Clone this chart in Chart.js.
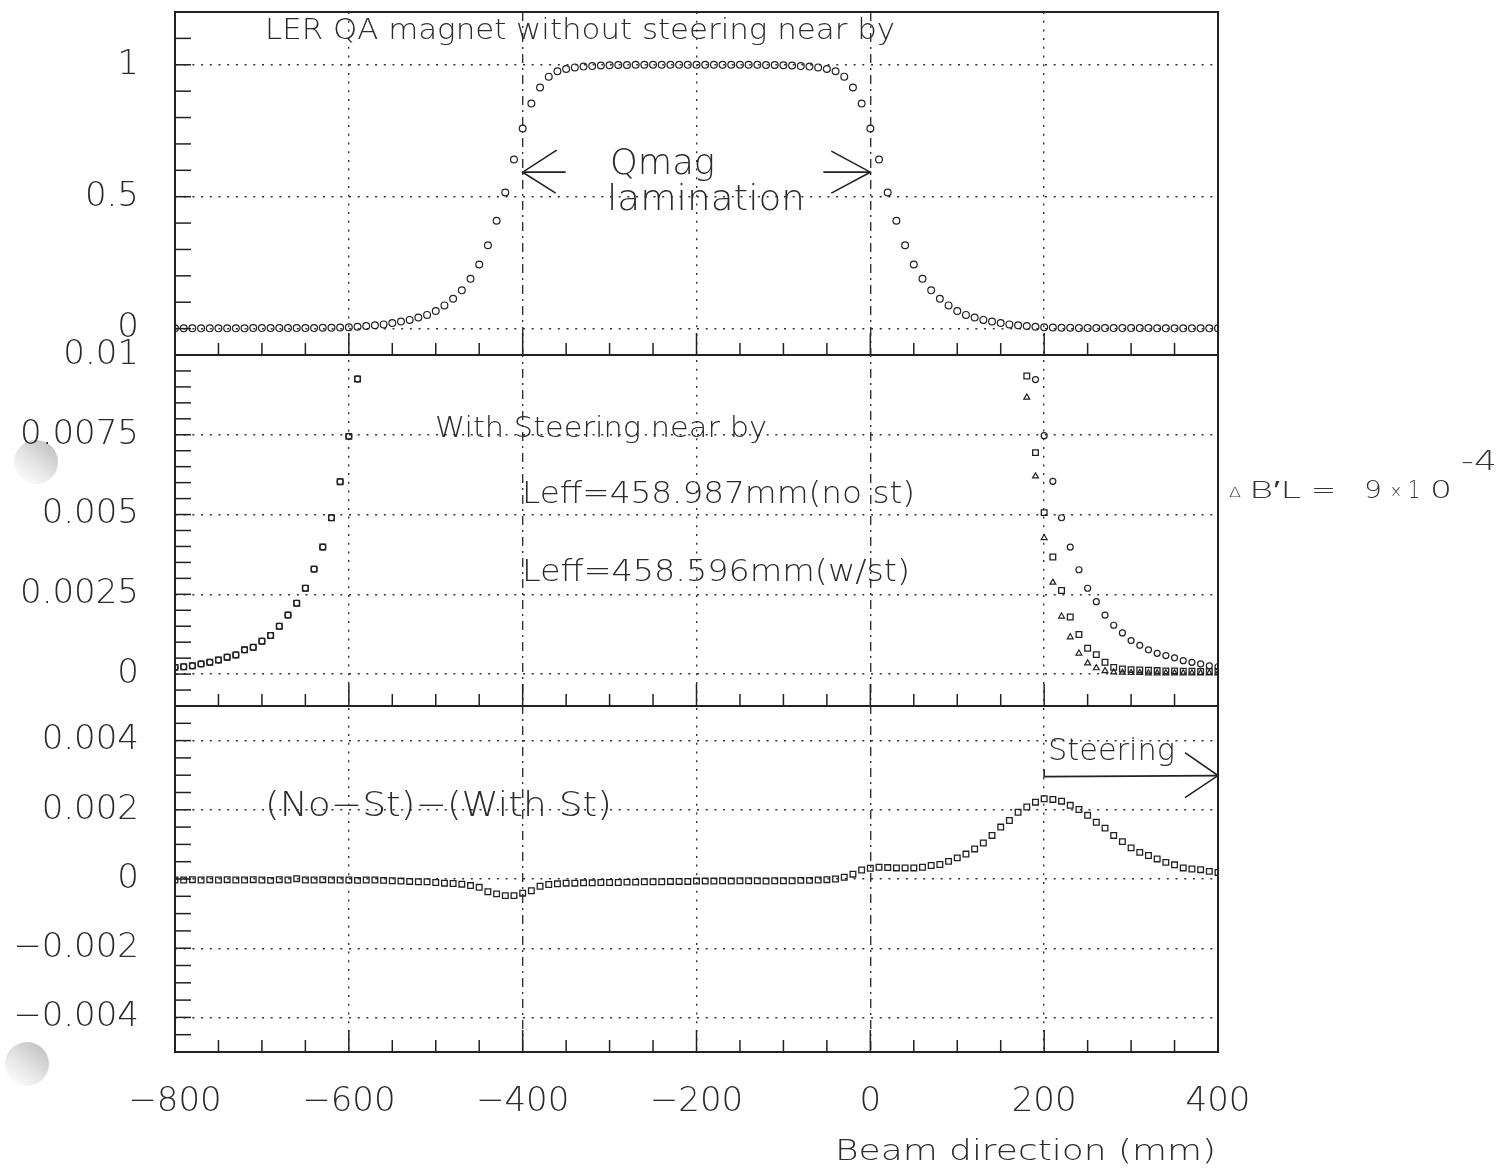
<!DOCTYPE html>
<html>
<head>
<meta charset="utf-8">
<title>LER QA magnet field profile</title>
<script src="https://cdn.jsdelivr.net/npm/chart.js@4.4.0/dist/chart.umd.min.js"></script>
<style>
  html, body { margin: 0; padding: 0; background: #fff; }
  #wrap { width: 1511px; height: 1175px; }
</style>
</head>
<body>
<div id="wrap"><canvas id="myChart" width="1511" height="1175"></canvas></div>
<script>
// Beam direction positions (mm)
const xFull = [
  -800,-790,-780,-770,-760,-750,-740,-730,-720,-710,
  -700,-690,-680,-670,-660,-650,-640,-630,-620,-610,
  -600,-590,-580,-570,-560,-550,-540,-530,-520,-510,
  -500,-490,-480,-470,-460,-450,-440,-430,-420,-410,
  -400,-390,-380,-370,-360,-350,-340,-330,-320,-310,
  -300,-290,-280,-270,-260,-250,-240,-230,-220,-210,
  -200,-190,-180,-170,-160,-150,-140,-130,-120,-110,
  -100,-90,-80,-70,-60,-50,-40,-30,-20,-10,
  0,10,20,30,40,50,60,70,80,90,
  100,110,120,130,140,150,160,170,180,190,
  200,210,220,230,240,250,260,270,280,290,
  300,310,320,330,340,350,360,370,380,390,
  400
];

// top panel : normalised field, no steering near by
const fieldNoSteer = [
  0.001,0.001,0.001,0.001,0.001,0.001,0.001,0.001,0.001,0.002,
  0.002,0.002,0.002,0.002,0.002,0.002,0.002,0.003,0.003,0.004,
  0.005,0.007,0.010,0.013,0.016,0.021,0.027,0.033,0.042,0.052,
  0.067,0.088,0.113,0.145,0.189,0.243,0.316,0.409,0.516,0.641,
  0.758,0.853,0.914,0.955,0.975,0.984,0.990,0.993,0.995,0.997,
  0.998,0.999,0.999,1.000,1.000,1.000,1.000,1.000,1.000,1.000,
  1.000,1.000,1.000,1.000,1.000,1.000,1.000,1.000,0.999,0.999,
  0.998,0.997,0.995,0.993,0.990,0.984,0.975,0.955,0.914,0.853,
  0.758,0.641,0.516,0.409,0.316,0.243,0.189,0.145,0.113,0.088,
  0.067,0.052,0.042,0.033,0.027,0.021,0.016,0.013,0.010,0.007,
  0.005,0.004,0.003,0.003,0.002,0.002,0.002,0.002,0.002,0.002,
  0.002,0.002,0.002,0.001,0.001,0.001,0.001,0.001,0.001,0.001,
  0.001
];

// middle panel : tails (only the part that stays inside 0..0.01)
const tailNoStX = [
  -800,-790,-780,-770,-760,-750,-740,-730,-720,-710,-700,
  -690,-680,-670,-660,-650,-640,-630,-620,-610,-600,-590,
  190,200,210,220,230,240,250,260,270,280,290,
  300,310,320,330,340,350,360,370,380,390,400
];
const tailNoSt = [
  0.00021,0.00023,0.00026,0.00032,0.00037,0.00044,0.00053,0.00060,0.00076,0.00084,0.00103,
  0.00121,0.00150,0.00185,0.00222,0.00269,0.00329,0.00398,0.00490,0.00603,0.00745,0.00925,
  0.00923,0.00747,0.00604,0.00490,0.00398,0.00327,0.00269,0.00227,0.00185,0.00153,0.00129,
  0.00105,0.00090,0.00076,0.00065,0.00058,0.00051,0.00042,0.00037,0.00032,0.00026,0.00023
];
const tailWithStX = [
  -800,-790,-780,-770,-760,-750,-740,-730,-720,-710,-700,
  -690,-680,-670,-660,-650,-640,-630,-620,-610,-600,-590,
  180,190,200,210,220,230,240,250,260,270,280,290,
  300,310,320,330,340,350,360,370,380,390,400
];
const tailWithSt = [
  0.00021,0.00023,0.00026,0.00032,0.00037,0.00044,0.00053,0.00060,0.00076,0.00084,0.00103,
  0.00121,0.00150,0.00185,0.00222,0.00269,0.00329,0.00398,0.00490,0.00603,0.00745,0.00925,
  0.00934,0.00694,0.00506,0.00367,0.00262,0.00179,0.00124,0.00081,0.00061,0.00037,0.00021,0.00016,
  0.00014,0.00013,0.00012,0.00011,0.00010,0.00010,0.00009,0.00009,0.00008,0.00008,0.00008
];
const tailWithSt2X = [
  180,190,200,210,220,230,240,250,260,270,280,290,
  300,310,320,330,340,350,360,370,380,390,400
];
const tailWithSt2 = [
  0.00867,0.00620,0.00427,0.00287,0.00181,0.00116,0.00065,0.00034,0.00019,0.00010,0.00006,0.00005,
  0.00004,0.00004,0.00003,0.00003,0.00003,0.00003,0.00003,0.00003,0.00003,0.00003,0.00003
];

// bottom panel : (No-St)-(With St)
const diffSt = [
  -0.00003,-0.00003,-0.00002,-0.00003,-0.00002,-0.00003,-0.00002,-0.00003,-0.00003,-0.00002,
  -0.00003,-0.00004,-0.00002,-0.00003,0.00001,-0.00003,-0.00003,-0.00002,-0.00003,-0.00003,
  -0.00003,-0.00004,-0.00003,-0.00003,-0.00004,-0.00005,-0.00006,-0.00007,-0.00008,-0.00008,
  -0.00010,-0.00012,-0.00013,-0.00015,-0.00019,-0.00024,-0.00037,-0.00043,-0.00048,-0.00048,
  -0.00041,-0.00034,-0.00021,-0.00016,-0.00014,-0.00012,-0.00012,-0.00011,-0.00011,-0.00010,
  -0.00010,-0.00010,-0.00009,-0.00009,-0.00008,-0.00008,-0.00008,-0.00007,-0.00007,-0.00007,
  -0.00006,-0.00006,-0.00006,-0.00005,-0.00006,-0.00005,-0.00005,-0.00005,-0.00006,-0.00005,
  -0.00005,-0.00005,-0.00004,-0.00004,-0.00003,-0.00002,0.00000,0.00005,0.00014,0.00026,
  0.00031,0.00034,0.00033,0.00032,0.00032,0.00032,0.00034,0.00039,0.00042,0.00051,
  0.00061,0.00072,0.00087,0.00104,0.00126,0.00150,0.00169,0.00193,0.00208,0.00222,
  0.00232,0.00230,0.00225,0.00213,0.00201,0.00184,0.00164,0.00147,0.00126,0.00108,
  0.00090,0.00077,0.00068,0.00058,0.00048,0.00041,0.00032,0.00029,0.00027,0.00022,
  0.00019
];

// tick labels
const xTicks = [-800, -600, -400, -200, 0, 200, 400];
const yTicksTop = [0, 0.5, 1];
const yTicksMid = [0, 0.0025, 0.005, 0.0075, 0.01];
const yTicksBot = [-0.004, -0.002, 0, 0.002, 0.004];

const ink = '#222';
const face = '"DejaVu Sans", "Liberation Sans", sans-serif';

function pts(xs, ys) {
  return xs.map((x, i) => ({x: x, y: ys[i]}));
}
function minus(v) {
  return String(v).replace('-', '\u2212');
}

// y axis (one per panel, stacked)
function yAxis(ticks, min, max, weight, stackWeight) {
  return {
    type: 'linear',
    position: 'left',
    stack: 'panels',
    stackWeight: stackWeight,
    weight: weight,
    min: min,
    max: max,
    afterBuildTicks: s => { s.ticks = ticks.map(v => ({value: v})); },
    afterFit: s => { s.width = 175; s.paddingTop = 0; s.paddingBottom = 0; },
    ticks: {
      color: '#2b2b2b',
      padding: 36,
      font: {family: face, size: 34, weight: 200},
      callback: v => minus(v)
    },
    grid: {color: '#333', lineWidth: 1.4, drawTicks: false},
    border: {display: false, dash: [2, 6.7]}
  };
}

function txt(c, s, x, y, size, w, weight) {
  c.font = (weight || 200) + ' ' + size + 'px ' + face;
  const m = c.measureText(s).width;
  c.save();
  c.translate(x, y);
  if (w) c.scale(w / m, 1);
  c.fillText(s, 0, 0);
  c.restore();
}

function line(c, pts) {
  c.beginPath();
  c.moveTo(pts[0][0], pts[0][1]);
  for (let i = 1; i < pts.length; i++) c.lineTo(pts[i][0], pts[i][1]);
  c.stroke();
}

const panelSteps = {yTop: 0.1, yMid: 0.0005, yBot: 0.0005};

const decor = {
  id: 'decor',
  beforeDraw(chart) {
    const c = chart.ctx;
    c.save();
    c.fillStyle = '#fff';
    c.fillRect(0, 0, chart.width, chart.height);
    // hole punch shadows of the scan
    [[36, 462], [27, 1064]].forEach(p => {
      const g = c.createLinearGradient(p[0] + 14, p[1] - 18, p[0] - 14, p[1] + 18);
      g.addColorStop(0, '#c4c4c4');
      g.addColorStop(0.5, '#e2e2e2');
      g.addColorStop(1, '#fbfbfb');
      c.fillStyle = g;
      c.beginPath();
      c.arc(p[0], p[1], 22, 0, Math.PI * 2);
      c.fill();
    });
    c.restore();
  },
  afterDraw(chart) {
    const c = chart.ctx;
    const xs = chart.scales.x;
    c.save();
    c.strokeStyle = ink;
    c.fillStyle = '#2b2b2b';
    ['yTop', 'yMid', 'yBot'].forEach(id => {
      const ys = chart.scales[id];
      c.lineWidth = 2;
      c.strokeRect(xs.left, ys.top, xs.right - xs.left, ys.bottom - ys.top);
      c.lineWidth = 1.5;
      const step = panelSteps[id];
      const n = Math.round((ys.max - ys.min) / step);
      for (let i = 1; i < n; i++) {
        const py = ys.getPixelForValue(ys.min + i * step);
        line(c, [[xs.left, py], [xs.left + 16, py]]);
      }
      for (let v = -750; v < 400; v += 50) {
        const px = xs.getPixelForValue(v);
        const len = v % 200 === 0 ? 22 : 12;
        line(c, [[px, ys.bottom], [px, ys.bottom - len]]);
      }
    });

    c.textAlign = 'left';
    c.textBaseline = 'alphabetic';
    const yt = chart.scales.yTop;
    const yb = chart.scales.yBot;

    // x axis title
    txt(c, 'Beam direction (mm)', 835, 1160, 28, 381);

    // top panel text + lamination arrows
    txt(c, 'LER QA magnet without steering near by', 265, 39, 28, 630);
    txt(c, 'Qmag', 610, 174, 35, 105);
    txt(c, 'lamination', 607, 210, 35, 198);
    c.lineWidth = 1.6;
    const ay = yt.getPixelForValue(0.593);
    const l = xs.getPixelForValue(-400);
    const r = xs.getPixelForValue(0);
    line(c, [[l + 43, ay], [l, ay]]);
    line(c, [[l + 34, ay - 22], [l, ay], [l + 33, ay + 21]]);
    line(c, [[r - 47, ay], [r, ay]]);
    line(c, [[r - 39, ay - 21], [r, ay], [r - 39, ay + 21]]);

    // middle panel text
    txt(c, 'With Steering near by', 435, 437, 28, 332);
    txt(c, 'Leff=458.987mm(no st)', 522, 503, 31, 393);
    txt(c, 'Leff=458.596mm(w/st)', 522, 581, 31, 388);

    // bottom panel text + steering arrow
    txt(c, '(No\u2212St)\u2212(With St)', 265, 816, 34, 347);
    txt(c, 'Steering', 1048, 760, 30, 127);
    const sy = yb.getPixelForValue(0.00296);
    const s0 = xs.getPixelForValue(200);
    line(c, [[s0, sy - 7], [s0, sy], [xs.right, sy - 1]]);
    line(c, [[xs.right - 33, sy - 24], [xs.right, sy - 1], [xs.right - 33, sy + 21]]);

    // handwritten note on the right
    c.fillStyle = '#333';
    txt(c, '\u0394', 1229, 497, 14, 12);
    txt(c, 'B\u2032L', 1249, 498, 23, 52);
    txt(c, '=', 1311, 498, 24, 25);
    txt(c, '9', 1364, 498, 25, 18);
    txt(c, '\u00d7', 1390, 497, 17, 12);
    txt(c, '1', 1408, 498, 25, 12);
    txt(c, '0', 1430, 498, 25, 22);
    txt(c, '-4', 1461, 470, 26, 36);
    c.restore();
  }
};

const ctx = document.getElementById('myChart');
const myChart = new Chart(ctx, {
  type: 'scatter',
  data: {
    datasets: [
      {
        label: 'no steering',
        data: pts(xFull, fieldNoSteer),
        yAxisID: 'yTop',
        pointStyle: 'circle',
        pointRadius: 3.4,
        pointBorderWidth: 1.2,
        pointBorderColor: ink,
        pointBackgroundColor: 'rgba(0,0,0,0)'
      },
      {
        label: 'no st',
        data: pts(tailNoStX, tailNoSt),
        yAxisID: 'yMid',
        pointStyle: 'circle',
        pointRadius: 3,
        pointBorderWidth: 1.2,
        pointBorderColor: ink,
        pointBackgroundColor: 'rgba(0,0,0,0)'
      },
      {
        label: 'w/st',
        data: pts(tailWithStX, tailWithSt),
        yAxisID: 'yMid',
        pointStyle: 'rect',
        pointRadius: 4,
        pointBorderWidth: 1.3,
        pointBorderColor: ink,
        pointBackgroundColor: 'rgba(0,0,0,0)'
      },
      {
        label: 'w/st 2',
        data: pts(tailWithSt2X, tailWithSt2),
        yAxisID: 'yMid',
        pointStyle: 'triangle',
        pointRadius: 3.4,
        pointBorderWidth: 1.2,
        pointBorderColor: ink,
        pointBackgroundColor: 'rgba(0,0,0,0)'
      },
      {
        label: '(No-St)-(With St)',
        data: pts(xFull, diffSt),
        yAxisID: 'yBot',
        pointStyle: 'rect',
        pointRadius: 4,
        pointBorderWidth: 1.3,
        pointBorderColor: ink,
        pointBackgroundColor: 'rgba(0,0,0,0)'
      }
    ]
  },
  options: {
    responsive: false,
    animation: false,
    events: [],
    layout: {padding: {top: 12, right: 293, left: 0, bottom: 0}},
    plugins: {legend: {display: false}, tooltip: {enabled: false}},
    scales: {
      x: {
        type: 'linear',
        min: -800,
        max: 400,
        afterBuildTicks: s => { s.ticks = xTicks.map(v => ({value: v})); },
        afterFit: s => { s.height = 123; s.paddingLeft = 0; s.paddingRight = 0; },
        ticks: {
          color: '#2b2b2b',
          padding: 30,
          maxRotation: 0,
          autoSkip: false,
          font: {family: face, size: 34, weight: 200},
          callback: v => minus(v)
        },
        grid: {
          drawTicks: false,
          lineWidth: 1.4,
          color: c => (c.tick && (c.tick.value === -800 || c.tick.value === 400)) ? 'rgba(0,0,0,0)' : '#333'
        },
        border: {
          display: false,
          dash: c => (c.tick && (c.tick.value === -400 || c.tick.value === 0)) ? [9, 5, 2, 5] : [2, 6.7]
        }
      },
      yTop: yAxis(yTicksTop, -0.1, 1.2, 3, 342),
      yMid: yAxis(yTicksMid, -0.001, 0.01, 2, 350),
      yBot: yAxis(yTicksBot, -0.005, 0.005, 1, 345)
    }
  },
  plugins: [decor]
});
</script>
</body>
</html>
